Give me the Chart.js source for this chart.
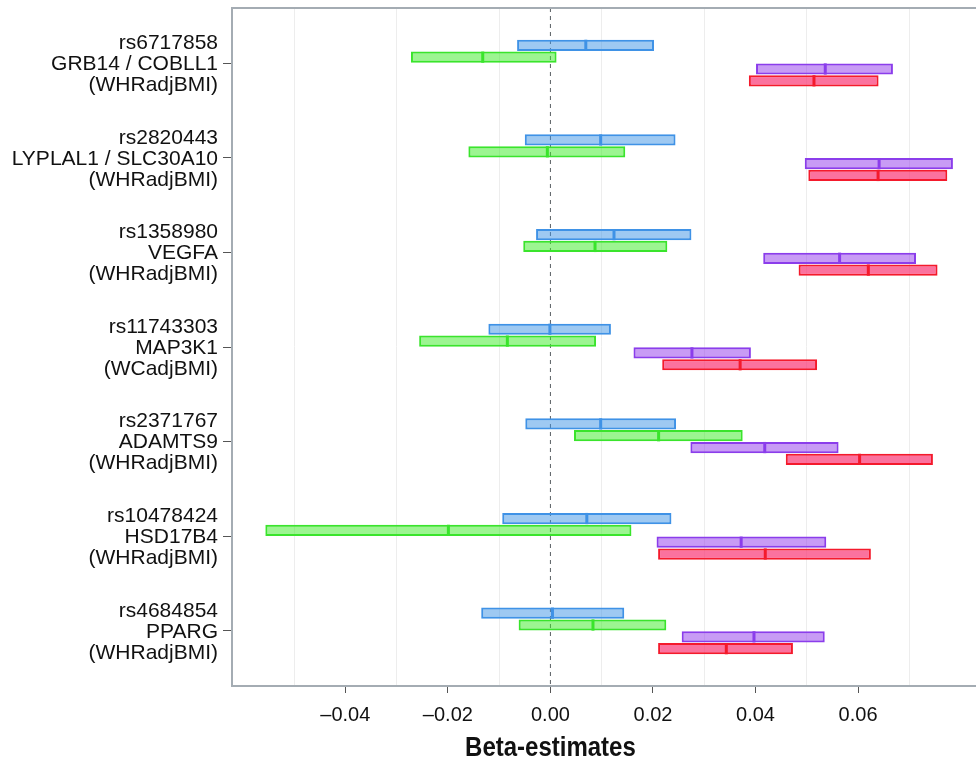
<!DOCTYPE html>
<html>
<head>
<meta charset="utf-8">
<script src="https://cdn.jsdelivr.net/npm/chart.js@4.4.1/dist/chart.umd.min.js"></script>
<style>
  html, body { margin: 0; padding: 0; background: #fff; }
</style>
</head>
<body>
<canvas id="betaChart" width="976" height="767"></canvas>
<script>
// labels of the y axis (three lines per locus)
const snpIds = ['rs6717858', 'rs2820443', 'rs1358980', 'rs11743303', 'rs2371767', 'rs10478424', 'rs4684854'];
const genes = ['GRB14 / COBLL1', 'LYPLAL1 / SLC30A10', 'VEGFA', 'MAP3K1', 'ADAMTS9', 'HSD17B4', 'PPARG'];
const traits = ['(WHRadjBMI)', '(WHRadjBMI)', '(WHRadjBMI)', '(WCadjBMI)', '(WHRadjBMI)', '(WHRadjBMI)', '(WHRadjBMI)'];

// beta estimates: lower bound, median, upper bound
const blueLow = [-0.0065, -0.0050, -0.0028, -0.0121, -0.0049, -0.0094, -0.0135];
const blueMed = [0.0069, 0.0098, 0.0124, -0.0001, 0.0098, 0.0071, 0.0004];
const blueHigh = [0.0202, 0.0244, 0.0275, 0.0118, 0.0245, 0.0236, 0.0144];

const greenLow = [-0.0272, -0.0160, -0.0053, -0.0256, 0.0046, -0.0556, -0.0062];
const greenMed = [-0.0132, -0.0006, 0.0087, -0.0084, 0.0211, -0.0199, 0.0083];
const greenHigh = [0.0012, 0.0146, 0.0228, 0.0089, 0.0375, 0.0158, 0.0226];

const purpleLow = [0.0401, 0.0496, 0.0415, 0.0162, 0.0273, 0.0207, 0.0256];
const purpleMed = [0.0536, 0.0641, 0.0564, 0.0276, 0.0418, 0.0372, 0.0397];
const purpleHigh = [0.0668, 0.0785, 0.0713, 0.0391, 0.0562, 0.0538, 0.0535];

const redLow = [0.0387, 0.0503, 0.0484, 0.0218, 0.0459, 0.0210, 0.0210];
const redMed = [0.0514, 0.0639, 0.0620, 0.0370, 0.0603, 0.0419, 0.0343];
const redHigh = [0.0640, 0.0774, 0.0755, 0.0520, 0.0746, 0.0625, 0.0473];

// x axis
const xTickValues = [-0.04, -0.02, 0.00, 0.02, 0.04, 0.06];
const xTickLabels = ['\u20130.04', '\u20130.02', '0.00', '0.02', '0.04', '0.06'];
const xGridValues = [-0.05, -0.03, -0.01, 0.01, 0.03, 0.05, 0.07];

const axisGrey = '#a4acb3';
const textFont = "'Liberation Sans', Arial, sans-serif";

function sameValue(a, b) {
   return Math.abs(a - b) < 1e-9;
}

function makeDataset(low, high, med, fill, border) {
   return {
      data: snpIds.map((id, i) => ({ y: i + 1, x: [low[i], high[i]] })),
      medians: med,
      backgroundColor: fill,
      borderColor: border,
      borderWidth: 2,
      borderSkipped: false,
      categoryPercentage: 0.5,
      barPercentage: 0.95
   };
}

// zero line, top frame, median marks and axis title
const extrasPlugin = {
   id: 'extras',
   beforeDatasetsDraw(chart) {
      const {ctx, chartArea, scales} = chart;
      const x0 = scales.x.getPixelForValue(0);
      ctx.save();
      ctx.strokeStyle = '#5a5f63';
      ctx.lineWidth = 1;
      ctx.setLineDash([4, 4]);
      ctx.beginPath();
      ctx.moveTo(x0, chartArea.top);
      ctx.lineTo(x0, chartArea.bottom);
      ctx.stroke();
      ctx.restore();
   },
   afterDatasetsDraw(chart) {
      const {ctx, scales} = chart;
      ctx.save();
      chart.data.datasets.forEach((ds, di) => {
         const meta = chart.getDatasetMeta(di);
         meta.data.forEach((bar, i) => {
            const x = scales.x.getPixelForValue(ds.medians[i]);
            ctx.strokeStyle = ds.borderColor;
            ctx.lineWidth = 3;
            ctx.beginPath();
            ctx.moveTo(x, bar.y - bar.height / 2);
            ctx.lineTo(x, bar.y + bar.height / 2);
            ctx.stroke();
         });
      });
      ctx.restore();
   },
   afterDraw(chart) {
      const {ctx, chartArea, scales} = chart;
      ctx.save();
      ctx.strokeStyle = axisGrey;
      ctx.lineWidth = 2;
      ctx.beginPath();
      ctx.moveTo(chartArea.left - 1, chartArea.top);
      ctx.lineTo(chartArea.right, chartArea.top);
      ctx.stroke();

      // axis title, a little taller than the plain font
      ctx.fillStyle = '#111';
      ctx.font = "bold 24px 'Liberation Sans', Arial, sans-serif";
      ctx.textAlign = 'center';
      ctx.textBaseline = 'middle';
      ctx.translate(scales.x.getPixelForValue(0), 748);
      ctx.scale(1, 1.18);
      ctx.fillText('Beta-estimates', 0, 0);
      ctx.restore();
   }
};

new Chart(document.getElementById('betaChart'), {
   type: 'bar',
   data: {
      datasets: [
         makeDataset(blueLow, blueHigh, blueMed, 'rgba(61,147,230,0.5)', '#3f92e6'),
         makeDataset(greenLow, greenHigh, greenMed, 'rgba(57,235,35,0.5)', '#3ae42c'),
         makeDataset(purpleLow, purpleHigh, purpleMed, 'rgba(145,55,235,0.5)', '#8b3deb'),
         makeDataset(redLow, redHigh, redMed, 'rgba(250,60,120,0.72)', '#f41a2c')
      ]
   },
   options: {
      indexAxis: 'y',
      responsive: false,
      animation: false,
      layout: { padding: { top: 8, right: 0, bottom: 0, left: 0 } },
      plugins: {
         legend: { display: false },
         tooltip: { enabled: false }
      },
      scales: {
         y: {
            type: 'linear',
            reverse: true,
            offset: false,
            min: 0.418,
            max: 7.582,
            afterBuildTicks: axis => {
               axis.ticks = snpIds.map((id, i) => ({ value: i + 1 }));
            },
            afterFit: axis => {
               axis.width = 232;
               axis.paddingTop = 0;
               axis.paddingBottom = 0;
            },
            grid: {
               offset: false,
               drawOnChartArea: false,
               drawTicks: true,
               tickLength: 9,
               tickColor: '#555',
               tickWidth: 1
            },
            border: { color: axisGrey, width: 2 },
            ticks: {
               padding: 5,
               labelOffset: 1,
               color: '#111',
               font: { family: textFont, size: 21, lineHeight: 1.0 },
               callback: (value, index) => [snpIds[index], genes[index], traits[index]]
            }
         },
         x: {
            type: 'linear',
            min: -0.0621,
            max: 0.083,
            afterBuildTicks: axis => {
               axis.ticks = xTickValues.concat(xGridValues)
                 .sort((a, b) => a - b)
                 .map(v => ({ value: v }));
            },
            afterFit: axis => {
               axis.height = 81;
               axis.paddingLeft = 0;
               axis.paddingRight = 0;
            },
            grid: {
               color: ctx => xGridValues.some(v => sameValue(v, ctx.tick.value)) ? '#ededed' : 'rgba(0,0,0,0)',
               tickColor: ctx => xTickValues.some(v => sameValue(v, ctx.tick.value)) ? '#555' : 'rgba(0,0,0,0)',
               tickLength: 7,
               lineWidth: 1
            },
            border: { color: axisGrey, width: 2 },
            ticks: {
               autoSkip: false,
               maxRotation: 0,
               padding: 10,
               color: '#111',
               font: { family: textFont, size: 20 },
               callback: value => {
                  const k = xTickValues.findIndex(v => sameValue(v, value));
                  return k >= 0 ? xTickLabels[k] : '';
               }
            }
         }
      }
   },
   plugins: [extrasPlugin]
});
</script>
</body>
</html>
